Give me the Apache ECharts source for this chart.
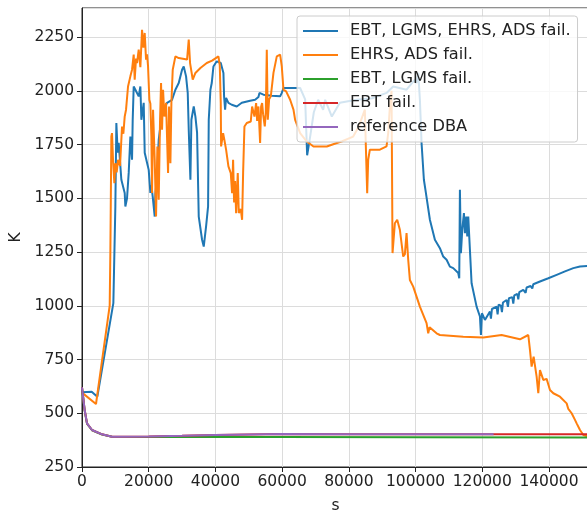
<!DOCTYPE html>
<html><head><meta charset="utf-8">
<script src="https://cdn.jsdelivr.net/npm/echarts@6/dist/echarts.min.js"></script>
<style>html,body{margin:0;padding:0;background:#fff}#c{width:587px;height:512px}</style>
</head><body><div id="c"></div>
<script>
const seriesNames = ['EBT, LGMS, EHRS, ADS fail.', 'EHRS, ADS fail.', 'EBT, LGMS fail.', 'EBT fail.', 'reference DBA'];
const xTickInterval = 20000;
const yTickInterval = 250;

const blueData = [[0,598],[2900,600],[4600,577],[9400,1012],[9700,1020],[10000,1462],[10300,1850],[10700,1712],[11000,1758],[11800,1586],[12800,1525],[13000,1462],[13500,1500],[14000,1618],[14500,1787],[15000,1679],[15200,1865],[15500,2020],[16000,2005],[17000,1974],[17500,2020],[17800,1865],[18500,1944],[18800,1712],[19500,1665],[20000,1632],[20500,1525],[20800,1560],[21200,1508],[21800,1415],[22000,1520],[22500,1601],[23000,1772],[24000,1898],[25500,1944],[27000,1958],[28000,2005],[29000,2036],[30000,2098],[30500,2113],[31200,2067],[31700,1990],[32000,1819],[32500,1586],[32800,1865],[33500,1927],[34000,1880],[34500,1805],[35000,1415],[36000,1307],[36500,1275],[37200,1369],[37800,1462],[38000,1865],[38500,2005],[38900,2036],[39400,2113],[40400,2137],[41600,2129],[42400,2083],[42600,1974],[42900,1912],[43200,1967],[43900,1944],[44900,1935],[46400,1927],[47900,1944],[50400,1954],[51900,1958],[52900,1971],[53200,1990],[54400,1982],[56900,1977],[59400,1974],[59900,1990],[60400,2013],[65400,2013],[66900,1960],[67500,1700],[67900,1694],[68400,1787],[69500,1900],[70800,1958],[72300,1912],[72900,1958],[74900,1880],[77300,1944],[82300,1958],[87000,1965],[91300,1990],[93300,2020],[97300,2005],[99800,2052],[100300,2036],[100800,2083],[101300,1960],[101800,1757],[102500,1586],[103100,1525],[104300,1400],[105800,1307],[107300,1268],[108300,1229],[109300,1214],[110300,1182],[111300,1175],[112800,1152],[113100,1128],[113300,1539],[113600,1245],[114000,1353],[114500,1431],[114800,1338],[115200,1415],[115500,1322],[115800,1415],[116300,1260],[116800,1105],[118300,996],[119300,950],[119600,864],[119900,965],[120800,934],[122300,973],[122600,940],[122900,985],[124300,996],[124600,960],[124900,1005],[125600,1000],[125900,970],[126200,1015],[127300,1027],[127700,995],[128000,1035],[129000,1040],[129300,1010],[129600,1048],[130500,1055],[130800,1030],[131100,1063],[132300,1074],[133000,1060],[133300,1085],[134500,1092],[135000,1080],[135300,1100],[137300,1113],[139800,1128],[142300,1144],[144800,1160],[147300,1175],[149300,1183],[152000,1186]];

const orangeData = [[0,596],[4200,543],[8000,967],[8300,1000],[8500,1246],[8800,1787],[9000,1803],[9300,1679],[9700,1570],[10000,1663],[10400,1620],[10800,1679],[11400,1650],[12000,1834],[12400,1800],[12800,1880],[13200,1912],[13800,2020],[14500,2067],[15000,2098],[15500,2168],[15800,2052],[16200,2150],[16500,2129],[17000,2191],[17500,2110],[18000,2284],[18400,2200],[18800,2269],[19200,2145],[19500,2170],[19800,2114],[20200,1958],[20500,1940],[20800,1787],[21000,1524],[21300,1912],[21800,1679],[22200,1415],[22600,1741],[23000,1493],[23400,1865],[23700,2036],[24000,1819],[24300,2005],[24700,1880],[25200,1944],[25800,1618],[26100,1927],[26500,1663],[26800,1943],[27200,2098],[28000,2160],[29000,2152],[31500,2145],[32000,2238],[32400,2129],[33200,2052],[34000,2083],[35500,2106],[37400,2129],[39000,2140],[40900,2160],[41300,2120],[41600,1943],[41700,1741],[42300,1803],[42700,1770],[43200,1726],[43900,1648],[44600,1617],[45000,1524],[45300,1679],[45600,1480],[45900,1580],[46200,1431],[46700,1617],[47000,1431],[47600,1450],[48000,1400],[48300,1617],[48700,1834],[49400,1850],[50600,1857],[51000,1927],[51700,1880],[52200,1943],[52500,1860],[52900,1927],[53400,1757],[53700,1927],[54000,1943],[54300,1890],[54800,1834],[55100,1900],[55400,2191],[55700,1865],[56100,1960],[56600,1974],[57400,2083],[58400,2160],[59400,2168],[59900,2113],[60400,2005],[61200,1997],[62400,1958],[63400,1912],[63900,1865],[65400,1803],[67400,1764],[69400,1741],[73400,1741],[76400,1757],[78000,1765],[81300,1787],[83000,1834],[84800,1912],[85100,1741],[85500,1524],[85800,1679],[86300,1726],[89300,1726],[91300,1741],[91800,1803],[92300,1927],[92800,2000],[93100,1245],[93800,1384],[94500,1400],[95300,1353],[96300,1229],[96800,1240],[97300,1338],[97800,1214],[98300,1120],[99300,1089],[101300,996],[103300,919],[103800,872],[104200,900],[106300,872],[107300,864],[114300,856],[120300,852],[125800,864],[131300,844],[133800,864],[134300,795],[134800,717],[135400,763],[136300,670],[136800,593],[137300,701],[138300,655],[139300,660],[140300,608],[141300,593],[143300,577],[145300,546],[145800,520],[146800,500],[147800,469],[148300,453],[149300,422],[150300,399],[152000,391]];

const greenData = [[0,620],[800,512],[1500,452],[3000,421],[6000,401],[9000,391],[20000,390],[40000,390],[60000,389],[100000,388],[152000,387]];

const redData = [[0,620],[800,515],[1500,453],[3000,422],[6000,402],[9000,391],[20000,392],[30000,395],[40000,399],[50000,401],[60000,403],[80000,402],[100000,402],[121500,402],[152000,402]];

const purpleData = [[0,620],[800,515],[1500,453],[3000,422],[6000,402],[9000,391],[20000,392],[30000,395],[40000,399],[50000,401],[60000,403],[80000,402],[100000,402],[123400,402]];

const colors = ['#1f77b4', '#ff7f0e', '#2ca02c', '#d62728', '#9467bd'];
const allData = [blueData, orangeData, greenData, redData, purpleData];

const FONT = 'DejaVu Sans';
const TICK_FS = 15.5;
const LEG_FS = 16.2;
const chart = echarts.init(document.getElementById('c'), null, {renderer: 'canvas'});
chart.setOption({
  animation: false,
  backgroundColor: '#fff',
  color: colors,
  grid: {left: 82, right: -2, top: 8, bottom: 45, show: true, borderColor: '#222', borderWidth: 1, backgroundColor: 'transparent', containLabel: false, outerBoundsMode: 'none'},
  legend: {
    orient: 'vertical', left: 297, top: 16, z: 20,
    padding: [6, 7, 6, 6],
    itemWidth: 35, itemHeight: 2, itemGap: 6, icon: 'rect',
    backgroundColor: 'rgba(255,255,255,0.8)', borderColor: '#cccccc', borderWidth: 1, borderRadius: 3,
    textStyle: {fontFamily: FONT, fontSize: LEG_FS, color: '#222', lineHeight: 18, padding: [0, 0, 0, 7]},
    data: seriesNames
  },
  xAxis: {
    type: 'value', min: 0, max: 152000, interval: xTickInterval,
    name: 's', nameLocation: 'middle', nameGap: 31,
    nameTextStyle: {fontFamily: FONT, fontSize: TICK_FS, color: '#222'},
    axisLine: {show: true, onZero: false, lineStyle: {color: '#222', width: 1}},
    axisTick: {show: true, length: 5, lineStyle: {color: '#222'}},
    axisLabel: {fontFamily: FONT, fontSize: TICK_FS, color: '#222', margin: 7, showMaxLabel: false, formatter: v => String(v)},
    splitLine: {show: true, lineStyle: {color: '#dcdcdc', width: 1}}
  },
  yAxis: {
    type: 'value', min: 250, max: 2385, interval: yTickInterval,
    name: 'K', nameLocation: 'middle', nameGap: 51, nameRotate: 90,
    nameTextStyle: {fontFamily: FONT, fontSize: TICK_FS, color: '#222'},
    axisLine: {show: true, onZero: false, lineStyle: {color: '#222', width: 1}},
    axisTick: {show: true, length: 5, lineStyle: {color: '#222'}},
    axisLabel: {fontFamily: FONT, fontSize: TICK_FS, color: '#222', margin: 8, showMaxLabel: false, formatter: v => String(v)},
    splitLine: {show: true, lineStyle: {color: '#dcdcdc', width: 1}}
  },
  series: seriesNames.map((n, i) => ({
    name: n, type: 'line', data: allData[i], showSymbol: false, symbol: 'none',
    lineStyle: {width: 2, color: colors[i]}, itemStyle: {color: colors[i]},
    z: 2, clip: true
  }))
});
</script>
</body></html>
